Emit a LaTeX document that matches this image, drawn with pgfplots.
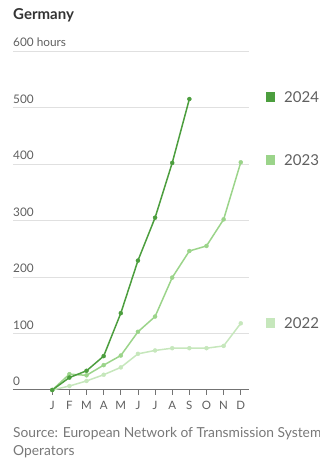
\documentclass[border=0pt]{standalone}
\usepackage{pgfplots}
\pgfplotsset{compat=1.18}
\usepackage{fontspec}
\setmainfont{Lato}
\definecolor{g24}{RGB}{76,158,62}
\definecolor{g23}{RGB}{155,212,138}
\definecolor{g22}{RGB}{198,231,188}
\definecolor{tick}{RGB}{95,95,95}
\definecolor{src}{RGB}{120,120,120}
\begin{document}
\begin{tikzpicture}[x=1pt,y=1pt]
\useasboundingbox (0,0) rectangle (320,462);
\node[anchor=west,inner sep=0,font=\fontsize{15}{17}\selectfont\bfseries,text=black!80] at (13,447) {Germany};
\begin{axis}[
  at={(13pt,72pt)}, anchor=south west,
  scale only axis, width=236pt, height=339pt,
  xmin=-2.29, xmax=11.48, ymin=0, ymax=600,
  axis line style={draw=none},
  ytick={100,200,300,400,500,600}, yticklabels={},
  ymajorgrids, major grid style={draw=black!12, line width=0.8pt},
  ytick style={draw=none},
  extra y ticks={0}, extra y tick labels={},
  extra y tick style={grid=major, major grid style={draw=black!55, line width=1pt}, tick style={draw=none}},
  xtick={0,...,11},
  xticklabels={J,F,M,A,M,J,J,A,S,O,N,D},
  xtick pos=bottom, tick align=outside,
  x tick style={draw=black!55, line width=0.8pt},
  major tick length=5pt,
  xticklabel style={text=tick, font=\fontsize{11.5}{13}\selectfont, yshift=-3pt},
  clip=false,
  every axis plot/.append style={line width=1.5pt, mark=*, mark size=2pt},
]
\addplot[g22, mark options={fill=g22, draw=g22, line width=0.4pt}] coordinates {
(0,0) (1,7) (2,16) (3,27) (4,40) (5,64) (6,70) (7,74) (8,74) (9,74) (10,78) (11,118)};
\addplot[g23, mark options={fill=g23, draw=g23, line width=0.4pt}] coordinates {
(0,0) (1,28) (2,26) (3,44) (4,61) (5,103) (6,130) (7,199) (8,246) (9,255) (10,302) (11,403)};
\addplot[g24, mark options={fill=g24, draw=g24, line width=0.4pt}] coordinates {
(0,0) (1,22) (2,34) (3,60) (4,136) (5,229) (6,305) (7,402) (8,515)};
\foreach \v/\t in {0/0,100/100,200/200,300/300,400/400,500/500,600/600 hours}{
  \edef\temp{\noexpand\node[anchor=base west, inner sep=0, text=tick, font=\noexpand\fontsize{11.8}{13}\noexpand\selectfont] at (axis cs:-2.29,\v) [yshift=4pt] {\t};}
  \temp
}
\end{axis}
\foreach \y/\c/\t in {365/g24/2024, 302/g23/2023, 139/g22/2022}{
  \fill[\c] (265.5,\y-4.75) rectangle (275,\y+4.75);
  \node[anchor=west, inner sep=0, text=tick, font=\fontsize{15}{17}\selectfont] at (284,\y) {\t};
}
\node[anchor=west, inner sep=0, text=src, font=\fontsize{13.8}{15}\selectfont] at (13,28) {Source: European Network of Transmission System};
\node[anchor=west, inner sep=0, text=src, font=\fontsize{13.8}{15}\selectfont] at (13,10) {Operators};
\end{tikzpicture}
\end{document}
